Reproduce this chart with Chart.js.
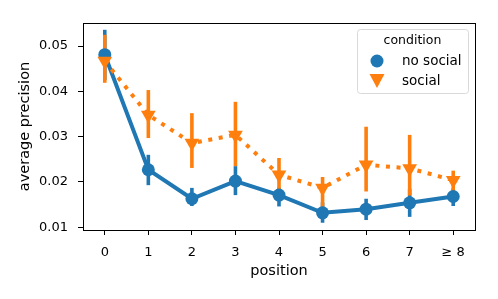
<!DOCTYPE html>
<html>
<head>
<meta charset="utf-8">
<script src="https://cdn.jsdelivr.net/npm/chart.js@4.4.1/dist/chart.umd.min.js"></script>
<style>
  html, body { margin: 0; padding: 0; background: #fff; }
  #wrap { width: 498px; height: 299px; }
</style>
</head>
<body>
<div id="wrap"><canvas id="chart" width="498" height="299"></canvas></div>
<script>
// categories and values
const positions = ['0', '1', '2', '3', '4', '5', '6', '7', '\u2265 8'];

const noSocial     = [0.0481, 0.0227, 0.0163, 0.0202, 0.0171, 0.0132, 0.0140, 0.0154, 0.0168];
const noSocialLow  = [0.0425, 0.0193, 0.0147, 0.0171, 0.0146, 0.0110, 0.0116, 0.0123, 0.0147];
const noSocialHigh = [0.0536, 0.0260, 0.0187, 0.0235, 0.0188, 0.0155, 0.0163, 0.0185, 0.0186];

const social     = [0.0467, 0.0348, 0.0286, 0.0304, 0.0216, 0.0187, 0.0238, 0.0230, 0.0204];
const socialLow  = [0.0419, 0.0297, 0.0231, 0.0235, 0.0178, 0.0145, 0.0179, 0.0170, 0.0179];
const socialHigh = [0.0525, 0.0403, 0.0352, 0.0377, 0.0253, 0.0211, 0.0322, 0.0304, 0.0225];

const yTicks = [0.01, 0.02, 0.03, 0.04, 0.05];

const BLUE = '#1f77b4';
const ORANGE = '#ff7f0e';
const FONT = 'DejaVu Sans';

// vertical confidence bars, drawn under the lines and markers
const errorBars = {
    id: 'errorBars',
    beforeDatasetsDraw(chart) {
        const ctx = chart.ctx;
        const yScale = chart.scales.y;
        chart.data.datasets.forEach((ds, di) => {
            const meta = chart.getDatasetMeta(di);
            ctx.save();
            ctx.strokeStyle = ds.borderColor;
            ctx.lineWidth = 3.6;
            ctx.lineCap = 'butt';
            meta.data.forEach((pt, i) => {
                ctx.beginPath();
                ctx.moveTo(pt.x, yScale.getPixelForValue(ds.errLow[i]));
                ctx.lineTo(pt.x, yScale.getPixelForValue(ds.errHigh[i]));
                ctx.stroke();
            });
            ctx.restore();
        });
    }
};

// full box around the plot area plus the legend in the upper right
const frameAndLegend = {
    id: 'frameAndLegend',
    afterDraw(chart) {
        const ctx = chart.ctx;
        const a = chart.chartArea;
        ctx.save();
        ctx.strokeStyle = '#000';
        ctx.lineWidth = 1;
        ctx.strokeRect(Math.round(a.left) + 0.5, Math.round(a.top) + 0.5,
            Math.round(a.right - a.left), Math.round(a.bottom - a.top));

        // legend box
        const lx = 357, ly = 29, lw = 111, lh = 64;
        ctx.beginPath();
        ctx.roundRect(lx + 0.5, ly + 0.5, lw, lh, 3);
        ctx.fillStyle = 'rgba(255,255,255,0.8)';
        ctx.fill();
        ctx.strokeStyle = '#d9d9d9';
        ctx.stroke();

        ctx.fillStyle = '#000';
        ctx.textBaseline = 'middle';
        ctx.textAlign = 'center';
        ctx.font = '12.5px "' + FONT + '"';
        ctx.fillText('condition', lx + lw / 2, 41);

        ctx.textAlign = 'left';
        ctx.font = '13.5px "' + FONT + '"';
        ctx.fillText('no social', 402, 61);
        ctx.fillText('social', 402, 81);

        ctx.fillStyle = BLUE;
        ctx.beginPath();
        ctx.arc(377, 61, 6.5, 0, Math.PI * 2);
        ctx.fill();

        ctx.fillStyle = ORANGE;
        ctx.beginPath();
        ctx.moveTo(369.5, 74);
        ctx.lineTo(384.5, 74);
        ctx.lineTo(377, 88);
        ctx.closePath();
        ctx.fill();
        ctx.restore();
    }
};

new Chart(document.getElementById('chart'), {
    type: 'line',
    data: {
        labels: positions,
        datasets: [
            {
                label: 'no social',
                data: noSocial,
                errLow: noSocialLow,
                errHigh: noSocialHigh,
                borderColor: BLUE,
                backgroundColor: BLUE,
                borderWidth: 4,
                pointStyle: 'circle',
                pointRadius: 6.5,
                pointBorderWidth: 0,
                tension: 0,
                order: 2
            },
            {
                label: 'social',
                data: social,
                errLow: socialLow,
                errHigh: socialHigh,
                borderColor: ORANGE,
                backgroundColor: ORANGE,
                borderWidth: 4,
                borderDash: [4, 6.6],
                borderCapStyle: 'butt',
                pointStyle: 'triangle',
                rotation: 180,
                pointRadius: 8.5,
                pointBorderWidth: 0,
                tension: 0,
                order: 1
            }
        ]
    },
    options: {
        responsive: false,
        animation: false,
        layout: { padding: { top: 23, right: 23, left: 13, bottom: 15 } },
        plugins: {
            legend: { display: false },
            tooltip: { enabled: false }
        },
        scales: {
            x: {
                type: 'category',
                offset: true,
                grid: { drawOnChartArea: false, color: '#000', tickLength: 5, offset: false },
                border: { color: '#000' },
                ticks: { color: '#000', font: { family: FONT, size: 13 }, padding: 10, maxRotation: 0 },
                title: { display: true, text: 'position', color: '#000', font: { family: FONT, size: 14.5 }, padding: { top: 2 } },
                afterFit: s => { s.height = 54; }
            },
            y: {
                min: 0.0094,
                max: 0.0551,
                afterBuildTicks: s => { s.ticks = yTicks.map(v => ({ value: v })); },
                grid: { drawOnChartArea: false, color: '#000', tickLength: 5 },
                border: { color: '#000' },
                ticks: { color: '#000', font: { family: FONT, size: 13 }, padding: 10, callback: v => v.toFixed(2) },
                title: { display: true, text: 'average precision', color: '#000', font: { family: FONT, size: 14.5 }, padding: { bottom: 2 } },
                afterFit: s => { s.width = 70; }
            }
        }
    },
    plugins: [errorBars, frameAndLegend]
});
</script>
</body>
</html>
